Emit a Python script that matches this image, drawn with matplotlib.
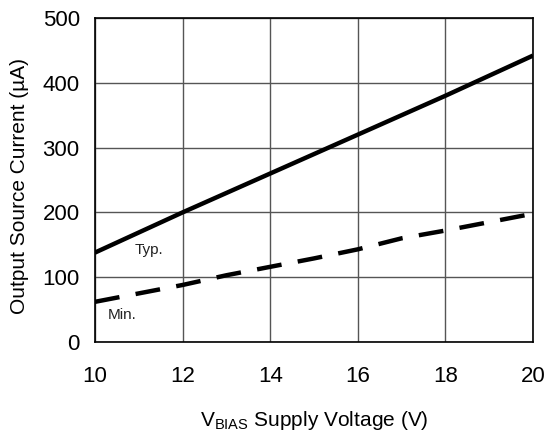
import matplotlib
matplotlib.use("Agg")
import matplotlib.pyplot as plt

plt.rcParams['font.family'] = ['Liberation Sans', 'DejaVu Sans']

# Supply voltage (V) vs output source current (uA)
v_typ = [10, 12, 14, 16, 18, 20]
i_typ = [138, 200, 260, 320, 380, 442]

v_min = [10, 11, 12, 13, 14, 15, 16, 17, 18, 19, 20]
i_min = [62, 75, 88, 103, 116, 129, 143, 160, 172, 185, 198]

x_ticks = [10, 12, 14, 16, 18, 20]
y_ticks = [0, 100, 200, 300, 400, 500]

fig = plt.figure(figsize=(5.47, 4.43), dpi=100)
ax = fig.add_axes([95/547, 1-342/443, 438/547, 324/443])

ax.plot(v_typ, i_typ, color="black", lw=3.2, solid_capstyle="butt", zorder=3)
ax.plot(v_min, i_min, color="black", lw=3.2, dashes=(5.6, 3.7),
        dash_capstyle="butt", zorder=3)

ax.set_xlim(10, 20)
ax.set_ylim(0, 500)
ax.set_xticks(x_ticks)
ax.set_yticks(y_ticks)
ax.tick_params(length=0, labelsize=16, colors="black")
ax.tick_params(axis="x", pad=17)
ax.tick_params(axis="y", pad=11)
ax.grid(True, color="#555555", lw=1.0)
for s in ax.spines.values():
    s.set_linewidth(1.2)
    s.set_color("black")

ax.text(10.9, 142, "Typ.", fontsize=11, va="center", color="#222222")
ax.text(10.3, 42, "Min.", fontsize=11, va="center", color="#222222")

ax.set_xlabel(r"V$_{\mathregular{BIAS}}$ Supply Voltage (V)", fontsize=15,
              labelpad=16)
ax.set_ylabel("Output Source Current (µA)", fontsize=15, labelpad=10)
ax.yaxis.label.set_y(0.48)

fig.savefig("out.png", dpi=100)
